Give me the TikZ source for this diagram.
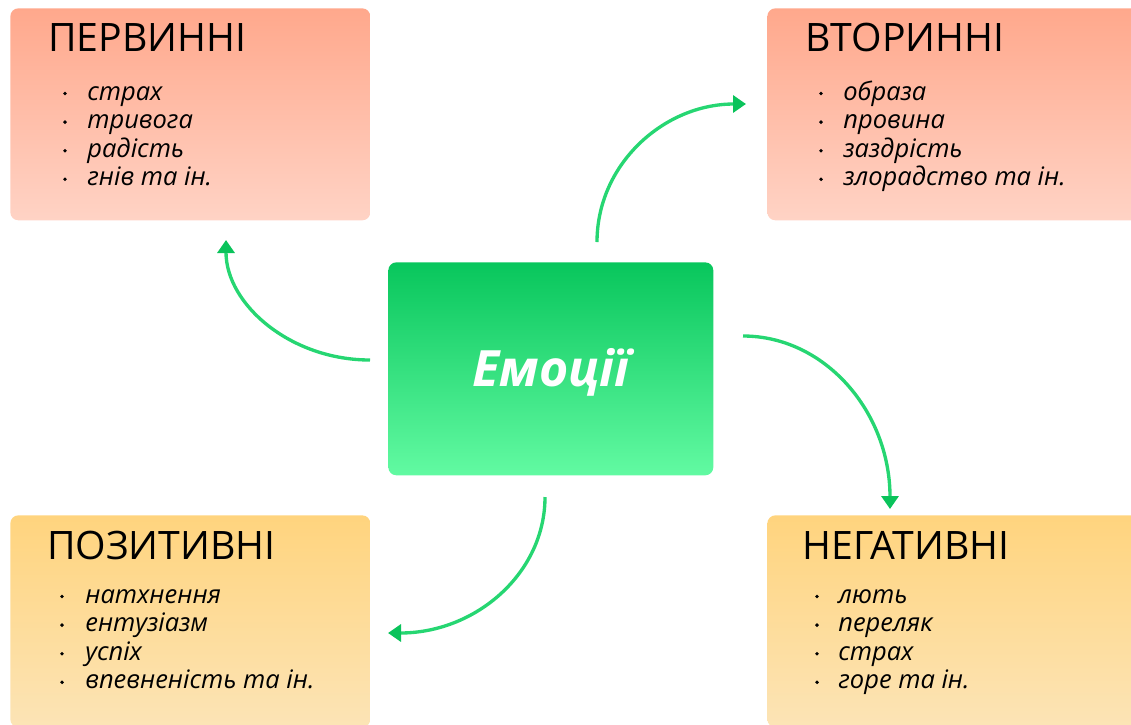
\documentclass[tikz,border=0pt]{standalone}
\usepackage{fontspec}
\setmainfont{Open Sans}
\usepackage{xcolor}
\usetikzlibrary{arrows.meta}

\definecolor{redtop}{HTML}{FFA88C}
\definecolor{redbot}{HTML}{FFD3C5}
\definecolor{yeltop}{HTML}{FFD47E}
\definecolor{yelbot}{HTML}{FCE4B6}
\definecolor{greentop}{HTML}{08C65C}
\definecolor{greenbot}{HTML}{62FAA2}
\definecolor{flowgreen}{HTML}{26D672}
\definecolor{tipgreen}{HTML}{0AC35B}

\begin{document}
\begin{tikzpicture}[x=0.02cm, y=-0.02cm]
    	\tikzstyle{card}=[rectangle, rounded corners=0.16cm, anchor=north west, inner sep=0pt, minimum width=7.2cm, minimum height=4.24cm]
    	\tikzstyle{title}=[anchor=base west, inner sep=0pt, font=\fontsize{22.3}{26}\selectfont]
    	\tikzstyle{item}=[anchor=base west, inner sep=0pt, font=\fontsize{14.5}{17}\selectfont\itshape]
    	\tikzstyle{dot}=[circle, fill=black, inner sep=0pt, minimum size=2.2pt]
    	\tikzstyle{flow}=[line width=1.9pt, draw=flowgreen, -{Triangle[length=0.26cm, width=0.34cm, color=tipgreen]}]
    	
    	\clip (0,0) rectangle (1131,724);
    	
    	% Cards
    	\node at (10,8) [card, top color=redtop, bottom color=redbot] (prim) {};
    	\node at (767,8) [card, minimum width=7.5cm, top color=redtop, bottom color=redbot] (sec) {};
    	\node at (10,515) [card, top color=yeltop, bottom color=yelbot] (pos) {};
    	\node at (767,515) [card, minimum width=7.5cm, top color=yeltop, bottom color=yelbot] (neg) {};
    	
    	% Centre
    	\node at (388,262) [card, minimum width=6.5cm, minimum height=4.26cm, top color=greentop, bottom color=greenbot] (emo) {};
    	\node at (551,372) [text=white, font=\fontsize{28.5}{32}\selectfont\bfseries\itshape] (emo_text) {Емоції};
    	
    	% Titles
    	\node at (48,51) [title] (prim_title) {ПЕРВИННІ};
    	\node at (805,51) [title] (sec_title) {ВТОРИННІ};
    	\node at (47,559) [title] (pos_title) {ПОЗИТИВНІ};
    	\node at (802,559) [title] (neg_title) {НЕГАТИВНІ};
    	
    	% Lists
    	\foreach \t [count=\i] in {страх, тривога, радість, гнів та ін.}
    	{\node at (87,{100+28.6*(\i-1)}) [item] (prim_\i) {\t};
    	 \node at (65,{93.5+28.6*(\i-1)}) [dot] (prim_dot_\i) {};}
    	
    	\foreach \t [count=\i] in {образа, провина, заздрість, злорадство та ін.}
    	{\node at (843,{100+28.6*(\i-1)}) [item] (sec_\i) {\t};
    	 \node at (821,{93.5+28.6*(\i-1)}) [dot] (sec_dot_\i) {};}
    	
    	\foreach \t [count=\i] in {натхнення, ентузіазм, успіх, впевненість та ін.}
    	{\node at (85,{603+28.6*(\i-1)}) [item] (pos_\i) {\t};
    	 \node at (62,{596.5+28.6*(\i-1)}) [dot] (pos_dot_\i) {};}
    	
    	\foreach \t [count=\i] in {лють, переляк, страх, горе та ін.}
    	{\node at (838,{603+28.6*(\i-1)}) [item] (neg_\i) {\t};
    	 \node at (817,{596.5+28.6*(\i-1)}) [dot] (neg_dot_\i) {};}
    	
    	% Arrows
    	\coordinate (to_prim_s) at (370,360);
    	\coordinate (to_prim_e) at (226,240);
    	\coordinate (to_sec_s) at (597,242);
    	\coordinate (to_sec_e) at (746,104);
    	\coordinate (to_neg_s) at (743,336);
    	\coordinate (to_neg_e) at (890,509);
    	\coordinate (to_pos_s) at (545,497);
    	\coordinate (to_pos_e) at (388,633);
    	
    	\draw [flow] (to_prim_s) .. controls +(-80,0) and +(0,64) .. (to_prim_e);
    	\draw [flow] (to_sec_s) .. controls +(0,-78) and +(-82,0) .. (to_sec_e);
    	\draw [flow] (to_neg_s) .. controls +(82,0) and +(0,-97) .. (to_neg_e);
    	\draw [flow] (to_pos_s) .. controls +(0,76) and +(88,0) .. (to_pos_e);

    \end{tikzpicture}
\end{document}
